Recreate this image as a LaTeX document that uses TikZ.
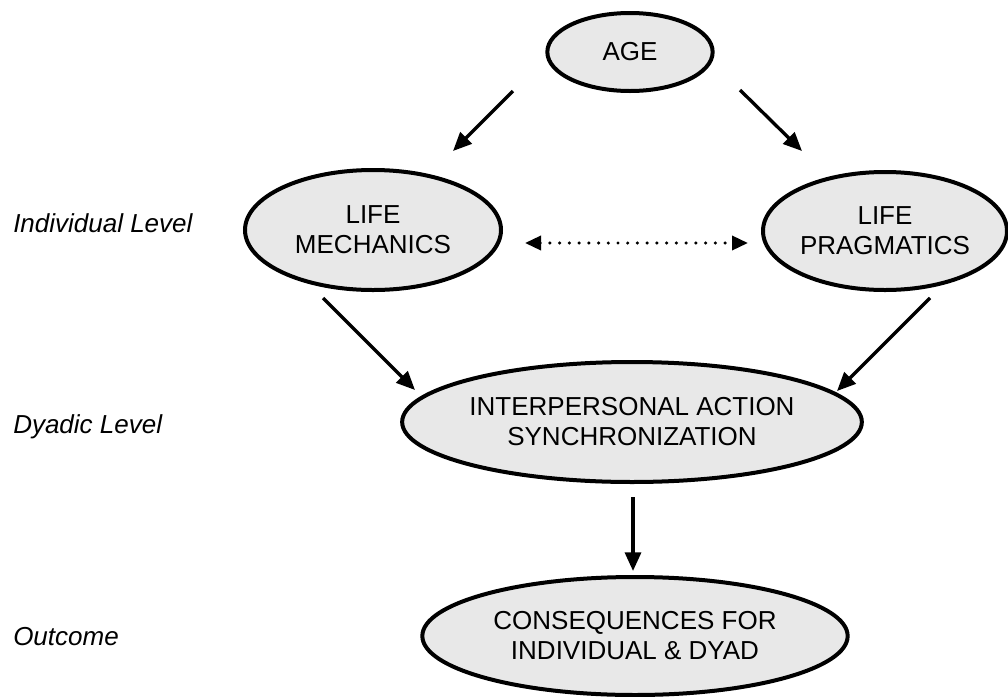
\documentclass[tikz,border=0pt]{standalone}
\usepackage{fontspec}
\setmainfont{Liberation Sans}
\usetikzlibrary{shapes.geometric,arrows.meta}
\begin{document}
\begin{tikzpicture}[x=0.75pt,y=-0.75pt,
  oval/.style={ellipse,draw=black,line width=3pt,fill=black!9,inner sep=0pt,
    align=center,font=\fontsize{19.5pt}{22.5pt}\selectfont},
  levellabel/.style={anchor=base west,inner sep=0pt,font=\fontsize{19.5pt}{22.5pt}\selectfont\itshape},
  arr/.style={line width=2.5pt,-{Triangle[length=14pt,width=12pt]}},
  dotarr/.style={line width=2.6pt,line cap=round,dash pattern=on 0pt off 7.3pt,
    {Triangle[length=12pt,width=10.5pt]}-{Triangle[length=12pt,width=10.5pt]}}]
\useasboundingbox (0,0) rectangle (1008,697);
% nodes
\node[oval,minimum width=124pt,minimum height=58.5pt] (age) at (630,52) {AGE};
\node[oval,minimum width=192pt,minimum height=90pt] (mech) at (373,230) {LIFE\\MECHANICS};
\node[oval,minimum width=183pt,minimum height=88.5pt] (prag) at (885,231) {LIFE\\PRAGMATICS};
\node[oval,minimum width=321pt,minimum height=90pt] (inter) at (632,422) {INTERPERSONAL ACTION\\SYNCHRONIZATION};
\node[oval,minimum width=319pt,minimum height=88.5pt] (cons) at (635,636) {CONSEQUENCES FOR\\INDIVIDUAL \& DYAD};
% level labels
\node[levellabel] (lind) at (13,232) {Individual Level};
\node[levellabel] (ldy) at (13,433) {Dyadic Level};
\node[levellabel] (lout) at (13,645) {Outcome};
% connector end points
\coordinate (a1s) at (513,91);  \coordinate (a1e) at (453,151);
\coordinate (a2s) at (740,90);  \coordinate (a2e) at (802,151);
\coordinate (m1s) at (323,298); \coordinate (m1e) at (415,390);
\coordinate (p1s) at (930,298); \coordinate (p1e) at (837,391);
\coordinate (d1s) at (633,497); \coordinate (d1e) at (633,571);
\coordinate (h1s) at (525,243); \coordinate (h1e) at (748,243);
% connectors
\draw[arr] (a1s) -- (a1e);
\draw[arr] (a2s) -- (a2e);
\draw[arr] (m1s) -- (m1e);
\draw[arr] (p1s) -- (p1e);
\draw[arr] (d1s) -- (d1e);
\draw[dotarr] (h1s) -- (h1e);
\end{tikzpicture}
\end{document}
